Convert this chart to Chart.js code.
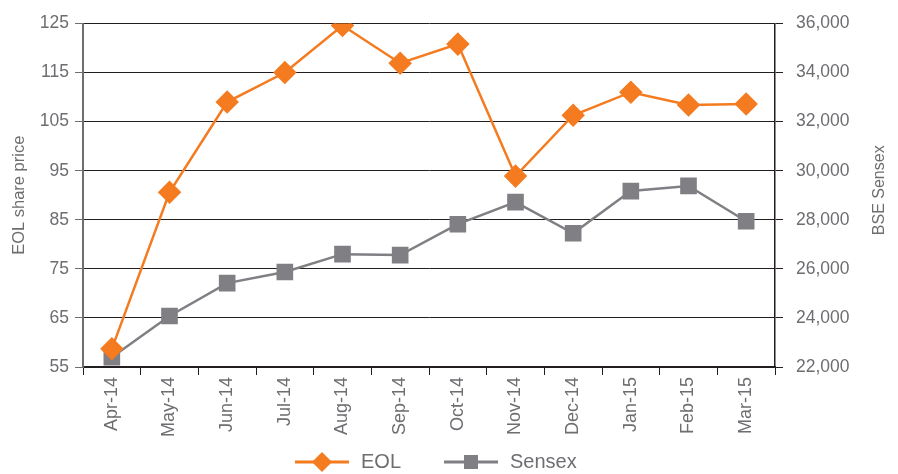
<!DOCTYPE html>
<html>
<head>
<meta charset="utf-8">
<script src="https://cdn.jsdelivr.net/npm/chart.js@4"></script>
<style>
  html, body { margin: 0; padding: 0; background: #fff; }
  #wrap { width: 898px; height: 474px; }
</style>
</head>
<body>
<div id="wrap"><canvas id="eol_chart"></canvas></div>
<script>
// data
var months = ['Apr-14', 'May-14', 'Jun-14', 'Jul-14', 'Aug-14', 'Sep-14', 'Oct-14', 'Nov-14', 'Dec-14', 'Jan-15', 'Feb-15', 'Mar-15'];
var eolPrice = [58.7, 90.6, 109, 115, 124.6, 116.9, 120.8, 93.9, 106.3, 111, 108.4, 108.6];
var sensex = [22400, 24080, 25420, 25870, 26600, 26560, 27820, 28720, 27450, 29170, 29380, 27940];

var ORANGE = '#f47b20';
var GREY = '#7f7f84';
var TXT = '#6d6e71';
var FONT = "'Liberation Sans', Arial, sans-serif";

// right axis title (reads bottom to top) + legend with line and marker
var extras = {
    id: 'extras',
    afterDraw: function(chart) {
        var a = chart.chartArea, g = chart.ctx;
        g.save();
        g.translate(880, (a.top + a.bottom) / 2 - 5);
        g.rotate(-Math.PI / 2);
        g.font = '16px ' + FONT;
        g.fillStyle = TXT;
        g.textAlign = 'center';
        g.textBaseline = 'middle';
        g.fillText('BSE Sensex', 0, 0);
        g.restore();

        // legend
        g.save();
        g.font = '20px ' + FONT;
        g.textBaseline = 'middle';
        var x = 295, y = 462;
        chart.data.datasets.forEach(function(ds) {
            g.strokeStyle = ds.borderColor;
            g.fillStyle = ds.borderColor;
            g.lineWidth = 3;
            g.beginPath(); g.moveTo(x, y); g.lineTo(x + 54, y); g.stroke();
            g.beginPath();
            if (ds.pointStyle == 'rectRot') {
                g.moveTo(x + 27, y - 10); g.lineTo(x + 37, y); g.lineTo(x + 27, y + 10); g.lineTo(x + 17, y);
            } else {
                g.rect(x + 20, y - 7, 14, 14);
            }
            g.closePath(); g.fill();
            g.fillStyle = TXT;
            g.fillText(ds.label, x + 66, y);
            x += 66 + g.measureText(ds.label).width + 43;
        });
        g.restore();
    }
};

var ctx = document.getElementById('eol_chart').getContext('2d');
var myChart = new Chart(ctx, {
    type: 'line',
    data: {
        labels: months,
        datasets: [{
            label: 'EOL',
            data: eolPrice,
            yAxisID: 'y',
            borderColor: ORANGE,
            backgroundColor: ORANGE,
            borderWidth: 2.5,
            pointStyle: 'rectRot',
            pointRadius: 10,
            pointHoverRadius: 10,
            tension: 0
        }, {
            label: 'Sensex',
            data: sensex,
            yAxisID: 'y2',
            borderColor: GREY,
            backgroundColor: GREY,
            borderWidth: 2.5,
            pointStyle: 'rect',
            pointRadius: 10,
            pointHoverRadius: 10,
            tension: 0
        }]
    },
    options: {
        responsive: true,
        maintainAspectRatio: false,
        animation: false,
        layout: { padding: { top: 22, left: 0, right: 0, bottom: 37 } },
        scales: {
            x: {
                offset: true,
                grid: { offset: true, drawOnChartArea: false, drawTicks: true, tickLength: 8, tickColor: '#231f20' },
                border: { color: '#231f20', width: 1.5 },
                ticks: { minRotation: 90, maxRotation: 90, padding: 2, color: TXT, font: { family: FONT, size: 18 } },
                afterFit: function(s) { s.height = 70; }
            },
            y: {
                position: 'left',
                min: 55, max: 125,
                ticks: { stepSize: 10, padding: 6, color: TXT, font: { family: FONT, size: 17.5 } },
                grid: { color: '#231f20', lineWidth: 1, tickLength: 8, tickColor: TXT },
                border: { color: TXT, width: 2 },
                title: { display: true, text: 'EOL share price', color: TXT, font: { family: FONT, size: 16.5 }, padding: { top: 10, bottom: 0 } },
                afterFit: function(s) { s.width = 83; }
            },
            y2: {
                position: 'right',
                min: 22000, max: 36000,
                ticks: { stepSize: 2000, padding: 13, color: TXT, font: { family: FONT, size: 17.5 } },
                grid: { drawOnChartArea: false, tickLength: 8, tickColor: '#231f20' },
                border: { color: '#231f20', width: 1.5 },
                afterFit: function(s) { s.width = 123; }
            }
        },
        plugins: {
            tooltip: { enabled: false },
            legend: { display: false }
        }
    },
    plugins: [extras]
});
</script>
</body>
</html>
